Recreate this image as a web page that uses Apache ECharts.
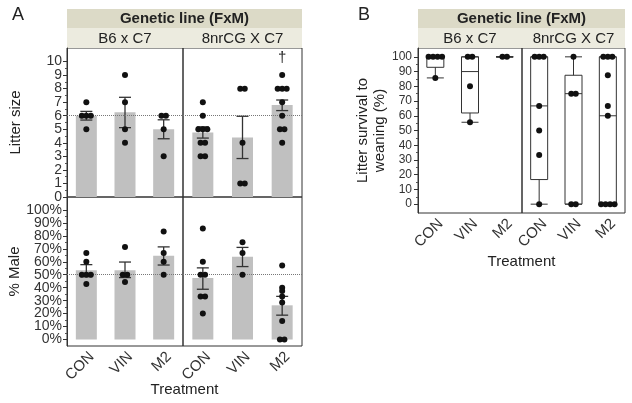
<!DOCTYPE html>
<html><head><meta charset="utf-8">
<script src="https://cdn.jsdelivr.net/npm/echarts@6/dist/echarts.min.js"></script>
<style>html,body{margin:0;padding:0;background:#fff}#c{width:632px;height:403px}</style>
</head><body><div id="c"></div>
<script>
// ---------- data ----------
const treatments = ['CON', 'VIN', 'M2'];
const lineNames = ['B6 x C7', '8nrCG X C7'];
const stripTitle = 'Genetic line (FxM)';

// Panel A top: litter size (mean and SE bounds)
const litterMeanB6 = [6.0, 6.25, 5.0];
const litterLowB6 = [5.68, 5.12, 4.3];
const litterHighB6 = [6.32, 7.36, 5.7];
const litterPtsB6 = [[7, 6, 6, 6, 5], [9, 7, 5, 4], [6, 6, 5, 3]];
const litterMean8nr = [4.76, 4.4, 6.79];
const litterLow8nr = [4.35, 2.84, 6.38];
const litterHigh8nr = [5.18, 5.96, 7.16];
const litterPts8nr = [[7, 6, 5, 5, 5, 4, 4, 3, 3], [8, 8, 4, 1, 1], [9, 8, 8, 8, 7, 6, 5, 5, 4]];
const litterSig8nr = ['', '', '\u2020'];
const litterRef = 6;
const litterTicks = [0, 1, 2, 3, 4, 5, 6, 7, 8, 9, 10];

// Panel A bottom: % male
const maleMeanB6 = [53.5, 53.5, 64.6];
const maleLowB6 = [48.5, 47.8, 57.5];
const maleHighB6 = [57.8, 59.8, 71.5];
const malePtsB6 = [[66.7, 60, 50, 50, 50, 42.9], [71.4, 50, 50, 44.4], [83.3, 66.7, 60, 50]];
const maleMean8nr = [47.5, 63.8, 26.4];
const maleLow8nr = [38.8, 56.3, 18.8];
const maleHigh8nr = [55.3, 71.1, 33.3];
const malePts8nr = [[85.7, 60, 50, 50, 33.3, 33.3, 20], [75, 66.7, 50], [57.1, 40, 37.5, 33.3, 28.6, 14.3, 0, 0]];
const maleRef = 50;
const pctTicks = [0, 10, 20, 30, 40, 50, 60, 70, 80, 90, 100];

// Panel B: litter survival to weaning (%) boxplots [min, Q1, median, Q3, max]
const survBoxB6 = [[85.7, 92.9, 100, 100, 100], [55.6, 61.9, 90, 100, 100], [100, 100, 100, 100, 100]];
const survPtsB6 = [[100, 100, 100, 100, 85.7], [100, 100, 80, 55.6], [100, 100]];
const survBox8nr = [[0, 16.7, 66.7, 100, 100], [0, 0, 75, 87.5, 100], [0, 0, 60, 100, 100]];
const survPts8nr = [[100, 100, 100, 66.7, 50, 33.3, 0], [100, 75, 75, 0, 0], [100, 100, 100, 87.5, 66.7, 60, 0, 0, 0, 0]];

// ---------- styling / helpers ----------
const FONT = '"Liberation Sans", Arial, sans-serif';
const INK = '#222';
const SPREAD = 4.5; // px between tied points

function pointData(groups) {
  const out = [];
  groups.forEach((vals, i) => {
    const counts = {}, seen = {};
    vals.forEach(v => counts[v] = (counts[v] || 0) + 1);
    vals.forEach(v => {
      const k = seen[v] || 0; seen[v] = k + 1;
      out.push([i, v, (k - (counts[v] - 1) / 2) * SPREAD]);
    });
  });
  return out;
}
function pointSeries(gi, groups) {
  return {
    type: 'custom', xAxisIndex: gi, yAxisIndex: gi, z: 5, silent: true,
    encode: { x: 0, y: 1 },
    data: pointData(groups),
    renderItem: (params, api) => {
      const p = api.coord([api.value(0), api.value(1)]);
      return { type: 'circle', shape: { cx: p[0] + api.value(2), cy: p[1], r: 3 }, style: { fill: '#111' } };
    }
  };
}
function errSeries(gi, lo, hi) {
  return {
    type: 'custom', xAxisIndex: gi, yAxisIndex: gi, z: 4, silent: true,
    encode: { x: 0, y: [1, 2] },
    data: lo.map((l, i) => [i, l, hi[i]]),
    renderItem: (params, api) => {
      const a = api.coord([api.value(0), api.value(1)]);
      const b = api.coord([api.value(0), api.value(2)]);
      const s = { stroke: '#333', lineWidth: 1.3 };
      return { type: 'group', children: [
        { type: 'line', shape: { x1: a[0], y1: a[1], x2: b[0], y2: b[1] }, style: s },
        { type: 'line', shape: { x1: a[0] - 6, y1: a[1], x2: a[0] + 6, y2: a[1] }, style: s },
        { type: 'line', shape: { x1: b[0] - 6, y1: b[1], x2: b[0] + 6, y2: b[1] }, style: s }
      ] };
    }
  };
}
function barSeries(gi, means, ref) {
  return {
    type: 'bar', xAxisIndex: gi, yAxisIndex: gi, data: means, barWidth: 21, z: 2, silent: true,
    itemStyle: { color: '#c0c0c0' },
    markLine: { silent: true, symbol: ['none', 'none'], label: { show: false },
      lineStyle: { type: 'dotted', color: '#777', width: 1 }, data: [{ yAxis: ref }] }
  };
}
function sigSeries(gi, pts, sig) {
  return {
    type: 'custom', xAxisIndex: gi, yAxisIndex: gi, z: 6, silent: true,
    encode: { x: 0, y: 1 },
    data: sig.map((s, i) => [i, Math.max.apply(null, pts[i]), s]),
    renderItem: (params, api) => {
      const p = api.coord([api.value(0), api.value(1)]);
      return { type: 'text', style: { text: sig[params.dataIndex], x: p[0], y: p[1] - 17,
        fill: INK, font: '15px ' + FONT, align: 'center', verticalAlign: 'middle' } };
    }
  };
}
function boxSeries(gi, boxes) {
  return {
    type: 'boxplot', xAxisIndex: gi, yAxisIndex: gi, data: boxes, boxWidth: [17, 17], z: 3, silent: true,
    itemStyle: { color: '#fff', borderColor: '#333', borderWidth: 1 }
  };
}

const grids = [
  { left: 67, top: 48, width: 116, height: 149 },
  { left: 183, top: 48, width: 119, height: 149 },
  { left: 67, top: 197, width: 116, height: 149 },
  { left: 183, top: 197, width: 119, height: 149 },
  { left: 418, top: 48, width: 104, height: 165 },
  { left: 522, top: 48, width: 103, height: 165 }
].map(g => Object.assign({ show: true, borderColor: '#333', borderWidth: 1, backgroundColor: 'transparent' }, g));

const showX = [false, false, true, true, true, true];
const xAxes = grids.map((g, i) => ({
  type: 'category', gridIndex: i, data: treatments, boundaryGap: true,
  axisLine: { show: false }, axisTick: { show: false }, splitLine: { show: false },
  axisLabel: { show: showX[i], rotate: 45, margin: 3, verticalAlign: 'top', fontSize: 15, color: '#333', fontFamily: FONT, interval: 0 }
}));

const yRanges = [[0, 11], [0, 11], [-5, 110], [-5, 110], [-6, 106], [-6, 106]];
function yAxis(i, opt) {
  return Object.assign({
    type: 'value', gridIndex: i, position: 'left', offset: 0, min: yRanges[i][0], max: yRanges[i][1],
    splitLine: { show: false }, axisLine: { show: false }, axisTick: { show: false }, axisLabel: { show: false }
  }, opt || {});
}
const pctFmt = v => v + '%';
const labelBase = { show: true, showMinLabel: true, showMaxLabel: true, color: '#333', fontFamily: FONT };
const evens = arr => arr.filter((v, k) => k % 2 === 0);
const odds = arr => arr.filter((v, k) => k % 2 === 1);
const minors = (arr, h) => arr.slice(0, -1).map(v => v + h);
const tickLine = { color: '#333' };

const yAxes = [
  // grid 0: litter size (labels split on two axes so none are dropped)
  yAxis(0, { axisLine: { show: true, lineStyle: tickLine },
    axisTick: { show: true, length: 4, customValues: litterTicks, lineStyle: tickLine },
    axisLabel: Object.assign({}, labelBase, { customValues: evens(litterTicks), margin: 5, fontSize: 14 }),
    name: 'Litter size', nameLocation: 'middle', nameGap: 44,
    nameTextStyle: { fontSize: 15, color: INK, fontFamily: FONT } }),
  yAxis(1),
  yAxis(2, { axisLine: { show: true, lineStyle: tickLine },
    axisTick: { show: true, length: 4, customValues: pctTicks, lineStyle: tickLine },
    axisLabel: Object.assign({}, labelBase, { customValues: evens(pctTicks), formatter: pctFmt, margin: 5, fontSize: 14 }),
    name: '% Male', nameLocation: 'middle', nameGap: 44,
    nameTextStyle: { fontSize: 15, color: INK, fontFamily: FONT } }),
  yAxis(3),
  yAxis(4, { axisLine: { show: true, lineStyle: tickLine },
    axisTick: { show: true, length: 4, customValues: pctTicks, lineStyle: tickLine },
    axisLabel: Object.assign({}, labelBase, { customValues: evens(pctTicks), margin: 6, fontSize: 12 }),
    name: 'Litter survival to\nweaning (%)', nameLocation: 'middle', nameGap: 30,
    nameTextStyle: { fontSize: 15, lineHeight: 17, color: INK, fontFamily: FONT } }),
  yAxis(5),
  // odd labels
  yAxis(0, { axisLabel: Object.assign({}, labelBase, { customValues: odds(litterTicks), margin: 5, fontSize: 14 }) }),
  yAxis(2, { axisLabel: Object.assign({}, labelBase, { customValues: odds(pctTicks), formatter: pctFmt, margin: 5, fontSize: 14 }) }),
  yAxis(4, { axisLabel: Object.assign({}, labelBase, { customValues: odds(pctTicks), margin: 6, fontSize: 12 }) }),
  // minor ticks
  yAxis(0, { axisTick: { show: true, length: 2, customValues: minors(litterTicks, 0.5), lineStyle: { color: '#555' } } }),
  yAxis(2, { axisTick: { show: true, length: 2, customValues: minors(pctTicks, 5), lineStyle: { color: '#555' } } }),
  yAxis(4, { axisTick: { show: true, length: 2, customValues: minors(pctTicks, 5), lineStyle: { color: '#555' } } })
];

const series = [
  barSeries(0, litterMeanB6, litterRef), errSeries(0, litterLowB6, litterHighB6), pointSeries(0, litterPtsB6),
  barSeries(1, litterMean8nr, litterRef), errSeries(1, litterLow8nr, litterHigh8nr), pointSeries(1, litterPts8nr),
  sigSeries(1, litterPts8nr, litterSig8nr),
  barSeries(2, maleMeanB6, maleRef), errSeries(2, maleLowB6, maleHighB6), pointSeries(2, malePtsB6),
  barSeries(3, maleMean8nr, maleRef), errSeries(3, maleLow8nr, maleHigh8nr), pointSeries(3, malePts8nr),
  boxSeries(4, survBoxB6), pointSeries(4, survPtsB6),
  boxSeries(5, survBox8nr), pointSeries(5, survPts8nr)
];

function strips(x0, xm, x1) {
  const t = (text, x, y, bold) => ({ type: 'text', style: { text, x, y, align: 'center', verticalAlign: 'middle',
    fill: INK, font: (bold ? 'bold ' : '') + '15px ' + FONT } });
  return [
    { type: 'rect', shape: { x: x0, y: 9, width: x1 - x0, height: 19 }, style: { fill: '#dcdac7' } },
    { type: 'rect', shape: { x: x0, y: 28, width: x1 - x0, height: 20 }, style: { fill: '#ecebdf' } },
    t(stripTitle, (x0 + x1) / 2, 18.5, true),
    t(lineNames[0], (x0 + xm) / 2, 38.5, false),
    t(lineNames[1], (xm + x1) / 2, 38.5, false)
  ];
}
const graphics = [].concat(
  strips(67, 183, 302), strips(418, 522, 625),
  [
    { type: 'text', style: { text: 'A', x: 18, y: 15, align: 'center', verticalAlign: 'middle', fill: INK, font: '18px ' + FONT } },
    { type: 'text', style: { text: 'B', x: 364, y: 15, align: 'center', verticalAlign: 'middle', fill: INK, font: '18px ' + FONT } },
    { type: 'text', style: { text: 'Treatment', x: 184.5, y: 390, align: 'center', verticalAlign: 'middle', fill: INK, font: '15px ' + FONT } },
    { type: 'text', style: { text: 'Treatment', x: 521.5, y: 262, align: 'center', verticalAlign: 'middle', fill: INK, font: '15px ' + FONT } }
  ]
);

const chart = echarts.init(document.getElementById('c'), null, { renderer: 'canvas' });
chart.setOption({
  animation: false,
  backgroundColor: '#fff',
  textStyle: { fontFamily: FONT },
  grid: grids, xAxis: xAxes, yAxis: yAxes, series: series,
  graphic: graphics
});
</script></body></html>
